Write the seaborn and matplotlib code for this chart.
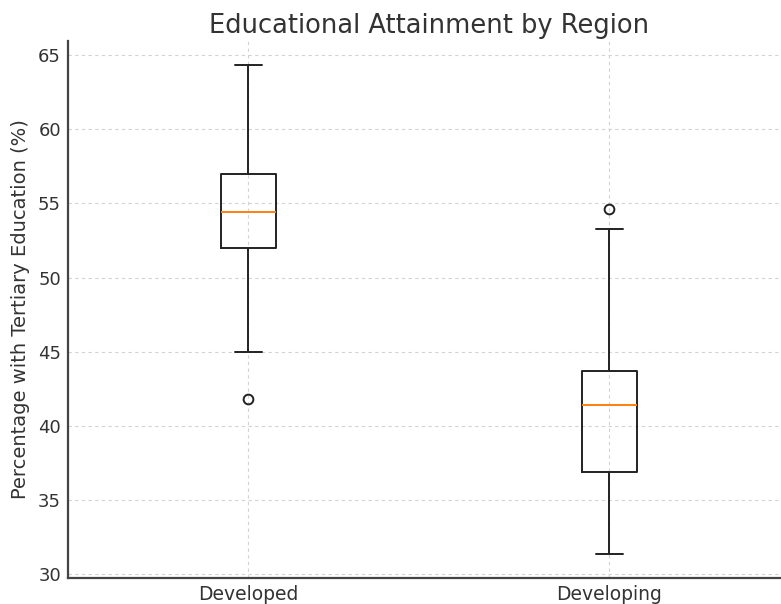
import matplotlib
matplotlib.use("Agg")
import matplotlib.pyplot as plt
import seaborn as sns
import pandas as pd

# Tertiary education share (%) per country sample, grouped by region
regions = ["Developed", "Developing"]
developed = [41.8, 45.0, 52.0, 53.2, 54.4, 55.6, 57.0, 60.5, 64.3]
developing = [31.4, 34.5, 36.9, 39.0, 41.4, 42.5, 43.7, 53.3, 54.6]

df = pd.DataFrame({
    "Region": [regions[0]] * len(developed) + [regions[1]] * len(developing),
    "Value": developed + developing,
})

sns.set_style("white")
plt.rcParams["font.family"] = ["DejaVu Sans"]

fig = plt.figure(figsize=(7.81, 6.04), dpi=100)
ax = fig.add_axes([68 / 781, 26 / 604, 722 / 781, 537 / 604])

line_col = "#222222"
sns.boxplot(
    data=df, x="Region", y="Value", order=regions, ax=ax,
    fill=False, color=line_col, width=0.15, whis=1.5, linewidth=1.4,
    medianprops={"color": "#ff7f0e", "linewidth": 1.4},
    flierprops={"marker": "o", "markersize": 7, "markerfacecolor": "none",
                "markeredgecolor": line_col, "markeredgewidth": 1.4},
)

ax.set_xlim(-0.5, 1.5)
ax.set_ylim(29.75, 65.95)
ax.set_yticks([30, 35, 40, 45, 50, 55, 60, 65])

ax.grid(True, linestyle=(0, (3, 3)), color="#d2d2d2", linewidth=0.8)
ax.set_axisbelow(True)

for side in ["top", "right"]:
    ax.spines[side].set_visible(False)
for side in ["left", "bottom"]:
    ax.spines[side].set_color("#444444")
    ax.spines[side].set_linewidth(1.6)

text_col = "#333333"
ax.tick_params(axis="both", direction="in", length=4, width=1, color="#444444",
               labelcolor=text_col)
ax.tick_params(axis="y", labelsize=13, pad=5)
ax.tick_params(axis="x", labelsize=13.5, pad=5)

ax.set_xlabel("")
ax.set_ylabel("Percentage with Tertiary Education (%)", fontsize=14,
              color=text_col, labelpad=6)
ax.set_title("Educational Attainment by Region", fontsize=18.5, color=text_col,
             pad=6)

fig.savefig("out.png", dpi=100)
